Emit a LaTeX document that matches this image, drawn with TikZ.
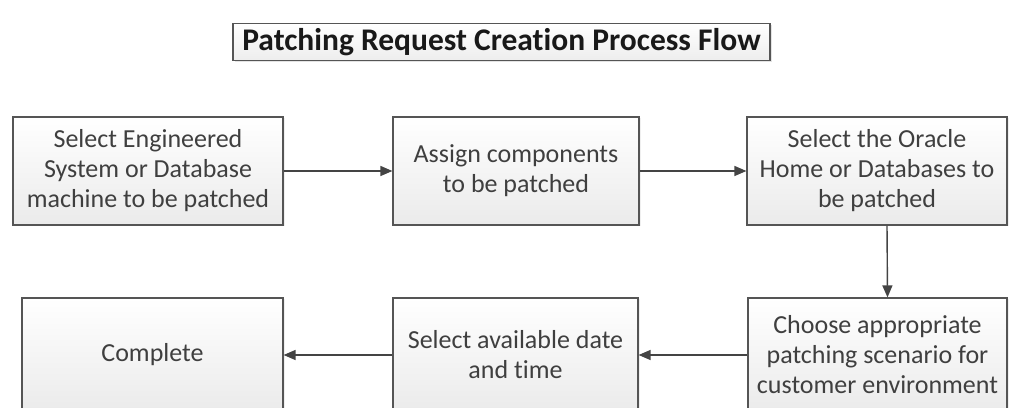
\documentclass[tikz,border=0pt]{standalone}
\usepackage{fontspec}
\setmainfont{Carlito}[Ligatures={NoCommon}]
\usetikzlibrary{arrows.meta,shadows}

\definecolor{boxline}{HTML}{555555}
\definecolor{boxtext}{HTML}{3F3F3F}
\definecolor{arrowgray}{HTML}{444444}

\begin{document}
\begin{tikzpicture}[
  x=1pt, y=1pt,
  titlebox/.style={draw=boxline, line width=1.2pt, top color=white, bottom color=black!7,
                   minimum height=37pt, inner sep=0pt, align=center,
                   font=\fontsize{31.5}{36}\selectfont\bfseries, text=black!90,
                   drop shadow={shadow xshift=1.5pt, shadow yshift=-2pt, fill=black!22}},
  procbox/.style={draw=boxline, line width=1.2pt, top color=white, bottom color=black!8,
                  inner sep=0pt, align=center, text=boxtext,
                  font=\fontsize{26}{30}\selectfont,
                  drop shadow={shadow xshift=1.5pt, shadow yshift=-1.5pt, fill=black!12}},
  flow/.style={-{Triangle[length=12pt, width=10pt]}, line width=1.4pt, draw=arrowgray},
]

\useasboundingbox (0,0) rectangle (1009,407);
\clip (0,0) rectangle (1009,407);

% --- Title ---
\node[titlebox, minimum width=537pt] (title) at (501.5,365) {Patching Request Creation Process Flow};

% --- Top row ---
\node[procbox, minimum width=270pt, minimum height=108pt] (engsys) at (148,236)
  {Select Engineered\\System or Database\\machine to be patched};
\node[procbox, minimum width=246pt, minimum height=108pt] (assign) at (516,236)
  {Assign components\\to be patched};
\node[procbox, minimum width=260pt, minimum height=108pt] (ohome) at (877,236)
  {Select the Oracle\\Home or Databases to\\be patched};

% --- Bottom row ---
\node[procbox, minimum width=259pt, minimum height=114pt] (scenario) at (877.5,52)
  {Choose appropriate\\patching scenario for\\customer environment};
\node[procbox, minimum width=245pt, minimum height=114pt] (slot) at (515.5,52)
  {Select available date\\and time};
\node[procbox, minimum width=261pt, minimum height=114pt] (done) at (152.5,52)
  {Complete};

% --- Connectors ---
\draw[flow] (engsys) -- (assign);
\draw[flow] (assign) -- (ohome);
\draw[flow] ([xshift=10pt]ohome.south) -- ([xshift=10pt]scenario.north);
\draw[flow] (scenario) -- (slot);
\draw[flow] (slot) -- (done);

\end{tikzpicture}
\end{document}
